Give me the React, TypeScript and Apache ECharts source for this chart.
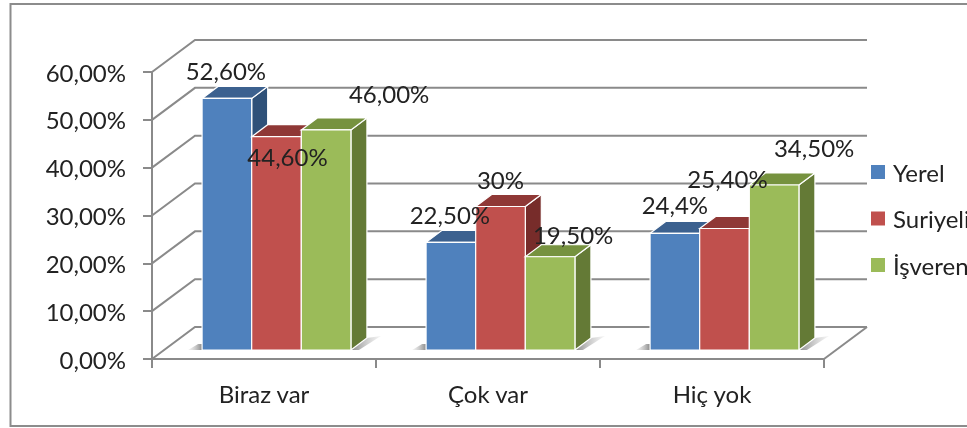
import React, { useEffect, useRef } from "react";
import * as echarts from "echarts";

const categories = ["Biraz var", "Çok var", "Hiç yok"];
const yerelValues = [52.6, 22.5, 24.4];
const suriyeliValues = [44.6, 30, 25.4];
const isverenValues = [46, 19.5, 34.5];
const yerelLabels = ["52,60%", "22,50%", "24,4%"];
const suriyeliLabels = ["44,60%", "30%", "25,40%"];
const isverenLabels = ["46,00%", "19,50%", "34,50%"];
const wallTicks = [0, 10, 20, 30, 40, 50, 60];
const seriesNames = ["Yerel", "Suriyeli", "İşveren"];

const FONT = "Lato";
const DEPTH_X = 43;
const DEPTH_Y = 32;
const BAR_DX = 16;
const BAR_DY = 12;
const BAR_LIFT = 9;
const BAR_SHIFT = 12.5;
const GRID_COLOR = "#8a8a8a";

// Label centre offsets from the top-centre of each bar's front face.
const labelOffsets = [
  [[-1, -28], [-1, -28], [0, -29]],
  [[11, 20], [0, -27], [3, -50]],
  [[63, -36], [23, -22], [40, -37]],
];

const palette = [
  { front: "#4f81bd", top: "#3c618f", side: "#2f5179" },
  { front: "#c0504d", top: "#8f3836", side: "#772c2a" },
  { front: "#9bbb59", top: "#76923f", side: "#647a36" },
];

function barGeometry(api: any, s: number) {
  const cat = api.value(0);
  const val = api.value(1);
  const band = api.size([1, 0])[0];
  const w = band * 0.2215;
  const c = api.coord([cat, val]);
  const b = api.coord([cat, 0]);
  const x0 = c[0] + BAR_SHIFT + (s - 1.5) * w;
  return { x0, x1: x0 + w, top: c[1] - BAR_LIFT, base: b[1] - BAR_LIFT, w };
}

function barSeries(s: number, values: number[]) {
  const col = palette[s];
  return {
    type: "custom",
    name: seriesNames[s],
    z: 3 + s,
    itemStyle: { color: col.front },
    encode: { x: 0, y: 1 },
    data: values.map((v, i) => [i, v]),
    renderItem: (_: any, api: any) => {
      const { x0, x1, top, base } = barGeometry(api, s);
      const edge = { stroke: "#ffffff", lineWidth: 1.2 };
      return {
        type: "group",
        children: [
          {
            type: "polygon",
            shape: { points: [[x1, top], [x1 + BAR_DX, top - BAR_DY], [x1 + BAR_DX, base - BAR_DY], [x1, base]] },
            style: { fill: col.side, ...edge },
          },
          {
            type: "polygon",
            shape: { points: [[x0, top], [x0 + BAR_DX, top - BAR_DY], [x1 + BAR_DX, top - BAR_DY], [x1, top]] },
            style: { fill: col.top, ...edge },
          },
          {
            type: "rect",
            shape: { x: x0, y: top, width: x1 - x0, height: base - top },
            style: { fill: col.front, ...edge },
          },
        ],
      };
    },
  };
}

function labelSeries(s: number, values: number[], texts: string[]) {
  return {
    type: "custom",
    name: "labels" + s,
    z: 10,
    encode: { x: 0, y: 1 },
    data: values.map((v, i) => [i, v]),
    renderItem: (p: any, api: any) => {
      const { x0, x1, top } = barGeometry(api, s);
      const off = labelOffsets[s][p.dataIndex];
      return {
        type: "text",
        style: {
          x: (x0 + x1) / 2 + off[0],
          y: top + off[1],
          text: texts[p.dataIndex],
          fill: "#222222",
          font: `24px ${FONT}`,
          align: "center",
          verticalAlign: "middle",
        },
      };
    },
  };
}

const wallSeries = {
  type: "custom",
  name: "walls",
  z: 1,
  encode: { x: 0, y: 1 },
  data: wallTicks.map((v) => [0, v]),
  renderItem: (p: any, api: any) => {
    const sys = p.coordSys;
    const val = api.value(1);
    const y = api.coord([0, val])[1];
    const left = sys.x;
    const right = sys.x + sys.width;
    const line = { stroke: GRID_COLOR, lineWidth: 2, fill: "none" };
    const children: any[] = [
      {
        type: "polyline",
        shape: { points: [[left, y], [left + DEPTH_X, y - DEPTH_Y], [right + DEPTH_X, y - DEPTH_Y]] },
        style: line,
      },
    ];
    if (val === 0) {
      children.push({
        type: "line",
        shape: { x1: right, y1: y, x2: right + DEPTH_X, y2: y - DEPTH_Y },
        style: line,
      });
    }
    return { type: "group", children };
  },
};

const shadowSeries = {
  type: "custom",
  name: "shadows",
  z: 2,
  encode: { x: 0, y: 1 },
  data: categories.map((_, i) => [i, 0]),
  renderItem: (_: any, api: any) => {
    const left = barGeometry(api, 0);
    const right = barGeometry(api, 2);
    const base = left.base;
    const shade = (x1: number, x2: number, c1: string, c2: string) =>
      new echarts.graphic.LinearGradient(x1, 0.5, x2, 0.5, [
        { offset: 0, color: c1 },
        { offset: 1, color: c2 },
      ]);
    return {
      type: "group",
      children: [
        {
          type: "polygon",
          shape: { points: [[right.x1, base], [right.x1 + 16, base - 12], [right.x1 + 30, base - 14], [right.x1 + 8, base]] },
          style: { fill: shade(0, 1, "#8a8a8a", "rgba(200,200,200,0.2)") },
        },
        {
          type: "polygon",
          shape: { points: [[left.x0 - 14, base], [left.x0 - 4, base - 6], [left.x0, base - 6], [left.x0, base]] },
          style: { fill: shade(0, 1, "rgba(200,200,200,0.2)", "#8a8a8a") },
        },
      ],
    };
  },
};

export default function App() {
  const ref = useRef<HTMLDivElement>(null);
  useEffect(() => {
    const chart = echarts.init(ref.current!, undefined, { renderer: "svg" });
    chart.setOption({
      animation: false,
      backgroundColor: "#ffffff",
      grid: { left: 152, right: 143, top: 72, bottom: 69 },
      graphic: [
        {
          type: "rect",
          z: 0,
          shape: { x: 10.5, y: 4, width: 1000, height: 422 },
          style: { fill: "none", stroke: "#8c8c8c", lineWidth: 2 },
        },
      ],
      legend: {
        orient: "vertical",
        left: 871,
        top: 160,
        padding: 0,
        itemWidth: 14,
        itemHeight: 14,
        itemGap: 22.5,
        icon: "rect",
        data: seriesNames,
        textStyle: { fontFamily: FONT, fontSize: 24, color: "#222222", padding: [0, 0, 0, 3] },
      },
      xAxis: {
        type: "category",
        data: categories,
        axisLine: { lineStyle: { color: GRID_COLOR, width: 2 } },
        axisTick: { show: true, length: 9, alignWithLabel: false, lineStyle: { color: GRID_COLOR, width: 2 } },
        axisLabel: { fontFamily: FONT, fontSize: 24, color: "#222222", margin: 22 },
      },
      yAxis: {
        type: "value",
        min: 0,
        max: 60,
        interval: 10,
        splitLine: { show: false },
        axisLine: { show: true, lineStyle: { color: GRID_COLOR, width: 2 } },
        axisTick: { show: true, length: 9, lineStyle: { color: GRID_COLOR, width: 2 } },
        axisLabel: {
          fontFamily: FONT,
          fontSize: 24,
          color: "#222222",
          margin: 26,
          formatter: (v: number) => v.toFixed(2).replace(".", ",") + "%",
        },
      },
      series: [
        wallSeries,
        shadowSeries,
        barSeries(0, yerelValues),
        barSeries(1, suriyeliValues),
        barSeries(2, isverenValues),
        labelSeries(0, yerelValues, yerelLabels),
        labelSeries(1, suriyeliValues, suriyeliLabels),
        labelSeries(2, isverenValues, isverenLabels),
      ],
    });
    return () => chart.dispose();
  }, []);
  return (
    <div
      ref={ref}
      style={{ position: "fixed", left: 0, top: 0, width: 967, height: 428, filter: "blur(0.4px)" }}
    />
  );
}
